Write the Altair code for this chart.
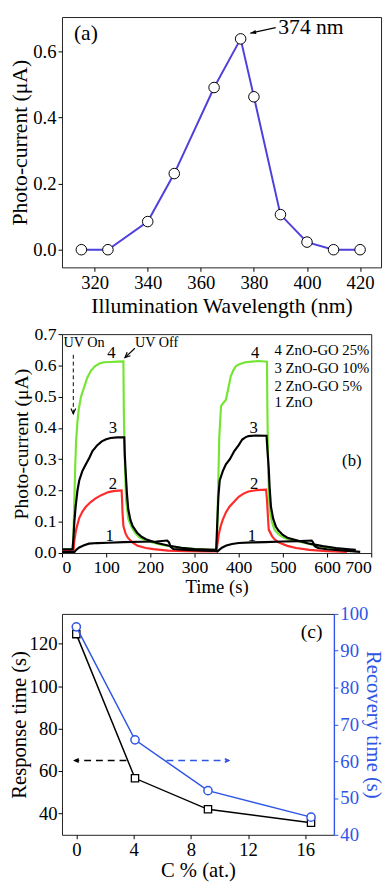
import altair as alt
import pandas as pd

FONT = "Liberation Serif"
PURPLE = "#4f3fdc"
BLUE = "#2f55e6"
GREEN = "#74e534"
RED = "#ff2a2a"

# ---------------- Panel (a) data ----------------
wavelength = [315, 325, 340, 350, 365, 375, 380, 390, 400, 410, 420]
photocurrent = [0.0, 0.0, 0.085, 0.23, 0.49, 0.637, 0.462, 0.106, 0.023, 0.0, 0.0]

# ---------------- Panel (b) data ----------------
t4 = [0, 24, 26, 28, 30, 32, 35, 38, 43, 50, 57, 65, 75, 85, 95, 110, 125, 139,
      140, 142, 145, 150, 157, 165, 175, 190, 205, 225, 250, 280, 310, 340, 349,
      351, 353, 356, 360, 365, 371, 377, 382, 388, 394, 400, 408, 415, 430, 445, 464,
      465, 467, 470, 475, 481, 490, 502, 515, 532, 550, 575, 600, 630, 658]
v4 = [0.012, 0.012, 0.06, 0.17, 0.28, 0.36, 0.42, 0.46, 0.5, 0.53, 0.56, 0.582, 0.598, 0.606, 0.61, 0.611, 0.612, 0.613,
      0.45, 0.3, 0.17, 0.11, 0.085, 0.065, 0.05, 0.04, 0.034, 0.027, 0.02, 0.015, 0.012, 0.01, 0.01,
      0.05, 0.18, 0.37, 0.47, 0.48, 0.49, 0.53, 0.565, 0.585, 0.598, 0.603, 0.607, 0.61, 0.612, 0.614, 0.612,
      0.45, 0.25, 0.14, 0.1, 0.075, 0.06, 0.049, 0.043, 0.039, 0.032, 0.024, 0.018, 0.012, 0.008]

t3 = [0, 24, 26, 28, 31, 35, 39, 46, 54, 62, 69, 80, 90, 100, 110, 125, 141,
      142, 144, 147, 150, 155, 160, 170, 180, 190, 200, 215, 240, 270, 300, 330, 349,
      351, 354, 357, 364, 371, 380, 390, 400, 408, 415, 422, 440, 463,
      465, 468, 470, 473, 478, 484, 490, 500, 510, 531, 560, 590, 620, 650, 665]
v3 = [0.012, 0.012, 0.05, 0.1, 0.15, 0.2, 0.232, 0.262, 0.284, 0.305, 0.326, 0.345, 0.357, 0.364, 0.368, 0.37, 0.37,
      0.32, 0.263, 0.19, 0.14, 0.105, 0.086, 0.065, 0.052, 0.044, 0.039, 0.032, 0.024, 0.017, 0.013, 0.011, 0.01,
      0.08, 0.18, 0.232, 0.262, 0.284, 0.3, 0.326, 0.345, 0.363, 0.37, 0.374, 0.376, 0.375,
      0.33, 0.27, 0.21, 0.148, 0.11, 0.085, 0.072, 0.058, 0.049, 0.041, 0.03, 0.022, 0.016, 0.012, 0.01]

t2 = [0, 26, 28, 32, 39, 46, 54, 65, 76, 90, 105, 120, 135,
      136, 137, 139, 144, 149, 160, 171, 190, 207, 240, 280, 320, 349,
      351, 355, 359, 364, 371, 379, 390, 400, 411, 422, 440, 462,
      464, 466, 468, 475, 481, 490, 510, 530, 560, 600, 645]
v2 = [0.008, 0.008, 0.04, 0.075, 0.112, 0.132, 0.148, 0.163, 0.175, 0.186, 0.195, 0.199, 0.2,
      0.17, 0.13, 0.086, 0.062, 0.049, 0.033, 0.023, 0.016, 0.0125, 0.008, 0.006, 0.005, 0.005,
      0.02, 0.06, 0.085, 0.107, 0.13, 0.148, 0.165, 0.18, 0.19, 0.197, 0.201, 0.203,
      0.17, 0.12, 0.075, 0.055, 0.044, 0.034, 0.023, 0.016, 0.01, 0.006, 0.004]

t1 = [0, 28, 32, 39, 50, 61, 80, 105, 140, 180, 214, 238,
      242, 246, 252, 280, 320, 349,
      352, 356, 362, 372, 385, 400, 430, 460, 500, 540, 565,
      568, 572, 580, 600, 640, 675]
v1 = [0.003, 0.003, 0.01, 0.018, 0.025, 0.03, 0.032, 0.033, 0.035, 0.036, 0.037, 0.04,
      0.035, 0.02, 0.013, 0.01, 0.008, 0.007,
      0.005, 0.01, 0.017, 0.024, 0.029, 0.032, 0.034, 0.035, 0.037, 0.038, 0.04,
      0.035, 0.022, 0.016, 0.012, 0.008, 0.004]

legend_labels = ["4 ZnO-GO 25%", "3 ZnO-GO 10%", "2 ZnO-GO 5%", "1 ZnO"]

# ---------------- Panel (c) data ----------------
carbon = [0, 4.1, 9.2, 16.4]
response = [124.5, 56.6, 42.0, 35.7]
recovery = [96.5, 65.8, 52.0, 44.8]

# =============== Panel (a) ===============
sxa = alt.Scale(domain=[307.7, 427.9], nice=False, zero=False)
sya = alt.Scale(domain=[-0.0534, 0.703], nice=False, zero=False)
ax_xa = alt.Axis(values=[320, 340, 360, 380, 400, 420], title="Illumination Wavelength (nm)",
                 labelFontSize=19, titleFontSize=22, titlePadding=3, labelPadding=3)
ax_ya = alt.Axis(values=[0, 0.2, 0.4, 0.6], format=".1f", title="Photo-current (μA)",
                 labelFontSize=19, titleFontSize=22, titlePadding=1, labelPadding=2)


def XA(f):
    return alt.X(f, scale=sxa, axis=ax_xa)


def YA(f):
    return alt.Y(f, scale=sya, axis=ax_ya)


df_a = pd.DataFrame({"wl": wavelength, "pc": photocurrent})
line_a = alt.Chart(df_a).mark_line(color=PURPLE, strokeWidth=2).encode(x=XA("wl:Q"), y=YA("pc:Q"))
pts_a = alt.Chart(df_a).mark_point(shape="circle", filled=True, fill="white", stroke="black",
                                   strokeWidth=1, size=115, opacity=1).encode(x=XA("wl:Q"), y=YA("pc:Q"))

ann_a_text = pd.DataFrame({"x": [316.7, 401.5], "y": [0.653, 0.672], "label": ["(a)", "374 nm"]})
txt_a = alt.Chart(ann_a_text).mark_text(font=FONT, fontSize=22, color="black", clip=True).encode(
    x=XA("x:Q"), y=YA("y:Q"), text="label:N")
arr_a = pd.DataFrame({"x": [388.2], "y": [0.671], "x2": [378.6], "y2": [0.654]})
arr_a_line = alt.Chart(arr_a).mark_rule(color="black", strokeWidth=1.3, clip=True).encode(
    x=XA("x:Q"), y=YA("y:Q"), x2="x2:Q", y2="y2:Q")
arr_a_head = alt.Chart(arr_a).mark_point(shape="M0,0L2,-0.7L2,0.7Z", filled=True, color="black",
                                         size=36, angle=347, opacity=1, clip=True).encode(
    x=XA("x2:Q"), y=YA("y2:Q"))

pa = alt.layer(line_a, pts_a, txt_a, arr_a_line, arr_a_head).properties(width=325, height=255)

# =============== Panel (b) ===============
sxb = alt.Scale(domain=[0, 700], nice=False, zero=False)
syb = alt.Scale(domain=[0, 0.7], nice=False, zero=False)
ax_xb = alt.Axis(values=list(range(0, 701, 100)), title="Time (s)",
                 labelFontSize=18, titleFontSize=19, titlePadding=1, labelPadding=2)
ax_yb = alt.Axis(values=[0, 0.1, 0.2, 0.3, 0.4, 0.5, 0.6, 0.7], format=".1f",
                 title="Photo-current (μA)", labelFontSize=18, titleFontSize=20,
                 titlePadding=3, labelPadding=2)


def XB(f):
    return alt.X(f, scale=sxb, axis=ax_xb)


def YB(f):
    return alt.Y(f, scale=syb, axis=ax_yb)


def curve(ts, vs, color):
    df = pd.DataFrame({"t": ts, "v": vs})
    return alt.Chart(df).mark_line(color=color, strokeWidth=2.2, clip=True).encode(x=XB("t:Q"), y=YB("v:Q"))


lines_b = [curve(t4, v4, GREEN), curve(t2, v2, RED), curve(t3, v3, "black"), curve(t1, v1, "black")]

nums = pd.DataFrame({
    "x": [112, 437, 115, 434, 115, 435, 108, 430],
    "y": [0.639, 0.639, 0.40, 0.40, 0.222, 0.222, 0.055, 0.055],
    "label": ["4", "4", "3", "3", "2", "2", "1", "1"]})
txt_nums = alt.Chart(nums).mark_text(font=FONT, fontSize=17, color="black", clip=True).encode(
    x=XB("x:Q"), y=YB("y:Q"), text="label:N")

leg = pd.DataFrame({"x": [481] * 4, "y": [0.648, 0.592, 0.533, 0.483], "label": legend_labels})
txt_leg = alt.Chart(leg).mark_text(font=FONT, fontSize=15, color="black", align="left", clip=True).encode(
    x=XB("x:Q"), y=YB("y:Q"), text="label:N")

misc_b = pd.DataFrame({"x": [50, 214, 656], "y": [0.67, 0.67, 0.295], "label": ["UV On", "UV Off", "(b)"],
                       "size": [14.5, 14.5, 17]})
txt_misc_b = alt.Chart(misc_b).mark_text(font=FONT, color="black", clip=True).encode(
    x=XB("x:Q"), y=YB("y:Q"), text="label:N", size=alt.Size("size:Q", scale=None, legend=None))

uvon = pd.DataFrame({"x": [25.6], "y": [0.634], "x2": [25.6], "y2": [0.445]})
uvon_line = alt.Chart(uvon).mark_rule(color="black", strokeWidth=1, strokeDash=[4, 3], clip=True).encode(
    x=XB("x:Q"), y=YB("y:Q"), x2="x2:Q", y2="y2:Q")
uvon_head = alt.Chart(uvon).mark_point(shape="M-0.8,-1.8L0,0L0.8,-1.8", filled=False, color="black",
                                       strokeWidth=1.2, size=36, opacity=1, clip=True).encode(
    x=XB("x2:Q"), y=YB("y2:Q"))

uvoff = pd.DataFrame({"x": [165], "y": [0.655], "x2": [142.5], "y2": [0.625]})
uvoff_line = alt.Chart(uvoff).mark_rule(color="black", strokeWidth=1.2, clip=True).encode(
    x=XB("x:Q"), y=YB("y:Q"), x2="x2:Q", y2="y2:Q")
uvoff_head = alt.Chart(uvoff).mark_point(shape="M1.8,-0.8L0,0L1.8,0.8", filled=False, color="black",
                                         strokeWidth=1.2, size=36, angle=317, opacity=1, clip=True).encode(
    x=XB("x2:Q"), y=YB("y2:Q"))

pb = alt.layer(*lines_b, txt_nums, txt_leg, txt_misc_b, uvon_line, uvon_head, uvoff_line,
               uvoff_head).properties(width=315, height=223)

# =============== Panel (c) ===============
sxc = alt.Scale(domain=[-1, 18], nice=False, zero=False)
syl = alt.Scale(domain=[30, 134], nice=False, zero=False)
syr = alt.Scale(domain=[40, 100], nice=False, zero=False)
ax_xc = alt.Axis(values=[0, 4, 8, 12, 16], title="C % (at.)",
                 labelFontSize=19, titleFontSize=21, titlePadding=0, labelPadding=2)
ax_yl = alt.Axis(values=[40, 60, 80, 100, 120], title="Response time (s)",
                 labelFontSize=19, titleFontSize=21, titlePadding=0, labelPadding=1)
ax_yr = alt.Axis(orient="right", values=[40, 50, 60, 70, 80, 90, 100], title="Recovery time (s)",
                 labelFontSize=19, titleFontSize=21, titlePadding=-5, labelPadding=2,
                 labelColor=BLUE, titleColor=BLUE, tickColor=BLUE, domain=True, domainColor=BLUE,
                 domainWidth=1.3)


def XC(f):
    return alt.X(f, scale=sxc, axis=ax_xc)


def YL(f):
    return alt.Y(f, scale=syl, axis=ax_yl)


def YR(f):
    return alt.Y(f, scale=syr, axis=ax_yr)


df_c = pd.DataFrame({"c": carbon, "resp": response, "rec": recovery})

line_l = alt.Chart(df_c).mark_line(color="black", strokeWidth=1.5).encode(x=XC("c:Q"), y=YL("resp:Q"))
pts_l = alt.Chart(df_c).mark_point(shape="square", filled=True, fill="white", stroke="black",
                                   strokeWidth=1.3, size=55, opacity=1).encode(x=XC("c:Q"), y=YL("resp:Q"))

arrows_c = pd.DataFrame({"x": [3.5, 6.3], "y": [65, 65], "x2": [-0.1, 10.65], "y2": [65, 65]})
arr_c_black = alt.Chart(arrows_c.iloc[[0]]).mark_rule(color="black", strokeWidth=1.5, strokeDash=[7, 5],
                                                      clip=True).encode(
    x=XC("x:Q"), y=YL("y:Q"), x2="x2:Q", y2="y2:Q")
arr_c_black_head = alt.Chart(arrows_c.iloc[[0]]).mark_point(
    shape="M2,-0.9L0,0L2,0.9", filled=False, color="black", strokeWidth=1.5, size=16, opacity=1,
    clip=True).encode(x=XC("x2:Q"), y=YL("y2:Q"))
arr_c_blue = alt.Chart(arrows_c.iloc[[1]]).mark_rule(color=BLUE, strokeWidth=1.5, strokeDash=[7, 5],
                                                     clip=True).encode(
    x=XC("x:Q"), y=YL("y:Q"), x2="x2:Q", y2="y2:Q")
arr_c_blue_head = alt.Chart(arrows_c.iloc[[1]]).mark_point(
    shape="M-2,-0.9L0,0L-2,0.9", filled=False, color=BLUE, strokeWidth=1.5, size=16, opacity=1,
    clip=True).encode(x=XC("x2:Q"), y=YL("y2:Q"))

lab_c = pd.DataFrame({"x": [16.44], "y": [125.5], "label": ["(c)"]})
txt_c = alt.Chart(lab_c).mark_text(font=FONT, fontSize=20, color="black", clip=True).encode(
    x=XC("x:Q"), y=YL("y:Q"), text="label:N")

left_group = alt.layer(line_l, pts_l, arr_c_black, arr_c_black_head, arr_c_blue, arr_c_blue_head, txt_c)

line_r = alt.Chart(df_c).mark_line(color=BLUE, strokeWidth=1.5).encode(x=XC("c:Q"), y=YR("rec:Q"))
pts_r = alt.Chart(df_c).mark_point(shape="circle", filled=True, fill="white", stroke=BLUE,
                                   strokeWidth=1.5, size=70, opacity=1).encode(x=XC("c:Q"), y=YR("rec:Q"))
right_group = alt.layer(line_r, pts_r)

pc = alt.layer(left_group, right_group).resolve_scale(y="independent").properties(width=277, height=225)

chart = alt.vconcat(pa, pb, pc, spacing=7).properties(
    padding=0, background="white"
).configure_view(stroke="#222", strokeWidth=1).configure_axis(
    grid=False, domain=False, labelFont=FONT, titleFont=FONT, labelColor="black", titleColor="black",
    tickColor="black", titleFontWeight="normal", tickSize=4
)

chart.save("out.html", embed_options={"renderer": "svg", "actions": False})
